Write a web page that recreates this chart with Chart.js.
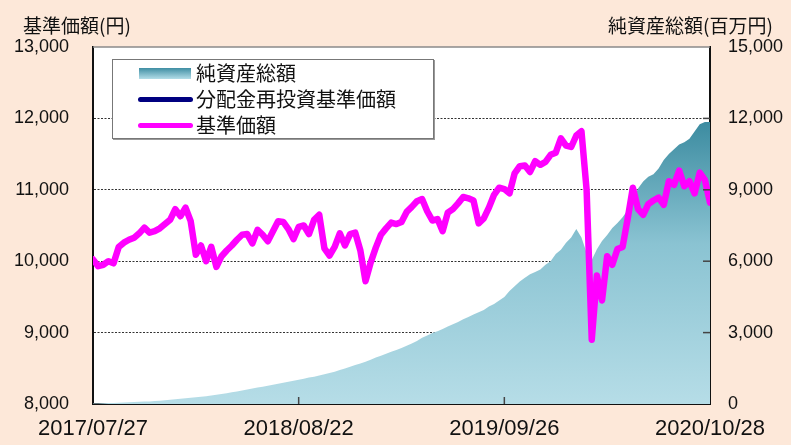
<!DOCTYPE html>
<html>
<head>
<meta charset="utf-8">
<script src="https://cdn.jsdelivr.net/npm/chart.js@4.4.0/dist/chart.umd.min.js"></script>
<style>
  body { margin: 0; background: #fde8d9; }
  #wrap { position: relative; width: 791px; height: 445px; overflow: hidden; }
  .ttl { position: absolute; font-family: "Noto Sans CJK JP", sans-serif; font-size: 19px; color: #111; white-space: nowrap; line-height: 1; }
  #legend { position: absolute; left: 112px; top: 59px; width: 320px; height: 78px; background: #fff;
    border: 1px solid #777; box-shadow: 1px 1px 0 #999; font-family: "Noto Sans CJK JP", sans-serif; font-size: 20px; color: #111; }
  .row { position: absolute; left: 0; height: 26px; line-height: 26px; white-space: nowrap; }
  .row span { position: absolute; left: 83px; top: -1px; }
  .sw { position: absolute; left: 25px; }
</style>
</head>
<body>
<div id="wrap">
  <canvas id="chart" width="791" height="445"></canvas>
  <div class="ttl" style="left:23px; top:15px;">基準価額(円)</div>
  <div class="ttl" style="left:608px; top:15px;">純資産総額(百万円)</div>
  <div id="legend">
    <div class="row" style="top:1px;"><div class="sw" style="left:26px; top:7px; width:52px; height:11px; background:linear-gradient(#3f8ea3,#b3dde8);"></div><span>純資産総額</span></div>
    <div class="row" style="top:27px;"><div class="sw" style="top:10px; width:55px; height:5px; border-radius:3px; background:#000080;"></div><span>分配金再投資基準価額</span></div>
    <div class="row" style="top:53px;"><div class="sw" style="top:10px; width:55px; height:5px; border-radius:3px; background:#ff00ff;"></div><span>基準価額</span></div>
  </div>
</div>
<script>
// x軸ラベル (インデックス 0, 40, 80, 120)
const xTickLabels = ["2017/07/27", "2018/08/22", "2019/09/26", "2020/10/28"];

// 基準価額(円)
const navValues = [
  10025, 9930, 9950, 10000, 9970, 10200, 10260, 10300, 10330, 10390,
  10470, 10400, 10420, 10460, 10520, 10580, 10730, 10630, 10750, 10560,
  10090, 10220, 10000, 10200, 9920, 10070, 10150, 10220, 10300, 10370,
  10380, 10250, 10440, 10370, 10280, 10420, 10560, 10550, 10450, 10310,
  10480, 10500, 10380, 10580, 10650, 10180, 10080, 10200, 10390, 10220,
  10380, 10400, 10150, 9720, 9980, 10190, 10370, 10460, 10540, 10520,
  10550, 10690, 10760, 10840, 10870, 10700, 10570, 10590, 10420, 10680,
  10730, 10810, 10900, 10880, 10850, 10530, 10600, 10750, 10930, 11030,
  11010, 10950, 11230, 11330, 11340, 11250, 11400, 11350, 11390, 11490,
  11520, 11720, 11620, 11600, 11760, 11820, 11000, 8900, 9800, 9450,
  10070, 9950, 10170, 10200, 10600, 11030, 10730, 10650, 10800, 10850,
  10890, 10790, 11120, 11070, 11270, 11050, 11120, 10950, 11240, 11140,
  10820
];

// 分配金再投資基準価額(円) ※分配実績なしのため基準価額と同じ
const reinvestValues = navValues.slice();

// 純資産総額(百万円)
const aumValues = [
  20, 25, 30, 38, 45, 50, 58, 70, 80, 90,
  100, 110, 122, 140, 160, 180, 200, 218, 238, 258,
  280, 305, 330, 360, 390, 420, 455, 495, 530, 570,
  610, 650, 690, 730, 770, 810, 850, 890, 935, 980,
  1020, 1065, 1110, 1150, 1200, 1245, 1300, 1360, 1430, 1490,
  1560, 1640, 1700, 1770, 1860, 1950, 2030, 2110, 2200, 2270,
  2350, 2450, 2540, 2650, 2780, 2880, 2980, 3060, 3150, 3260,
  3350, 3450, 3560, 3660, 3760, 3850, 3950, 4100, 4200, 4350,
  4500, 4750, 4950, 5150, 5300, 5450, 5550, 5650, 5850, 6000,
  6300, 6480, 6780, 7000, 7350, 7000, 6350, 6050, 6500, 6850,
  7100, 7400, 7600, 7850, 8150, 8550, 9050, 9350, 9550, 9650,
  9900, 10250, 10500, 10700, 10900, 11000, 11150, 11450, 11750, 11850,
  11850
];

const toXY = (arr) => arr.map((v, i) => ({ x: i, y: v }));

// プロットエリアの白背景と上枠
const areaBg = {
  id: "areaBg",
  beforeDraw(chart) {
    const { ctx, chartArea: a } = chart;
    ctx.save();
    ctx.fillStyle = "#ffffff";
    ctx.fillRect(a.left, a.top, a.right - a.left, a.bottom - a.top);
    ctx.restore();
  },
  afterDraw(chart) {
    const { ctx, chartArea: a } = chart;
    ctx.save();
    ctx.strokeStyle = "#8a8a8a";
    ctx.lineWidth = 1.5;
    ctx.beginPath();
    ctx.moveTo(a.left, a.top);
    ctx.lineTo(a.right, a.top);
    ctx.stroke();
    ctx.restore();
  },
};

// 内向きの目盛り
const innerTicks = {
  id: "innerTicks",
  afterDatasetsDraw(chart) {
    const { ctx, chartArea: a, scales } = chart;
    ctx.save();
    ctx.strokeStyle = "#444";
    ctx.lineWidth = 1.5;
    scales.y2.ticks.forEach((t) => {
      if (t.value <= 0 || t.value >= 15000) return;
      const y = scales.y2.getPixelForValue(t.value);
      ctx.beginPath();
      ctx.moveTo(a.right - 7, y);
      ctx.lineTo(a.right, y);
      ctx.stroke();
    });
    scales.x.ticks.forEach((t) => {
      if (t.value <= 0 || t.value >= navValues.length - 1) return;
      const x = scales.x.getPixelForValue(t.value);
      ctx.beginPath();
      ctx.moveTo(x, a.bottom - 7);
      ctx.lineTo(x, a.bottom);
      ctx.stroke();
    });
    ctx.restore();
  },
};

function areaGradient(context) {
  const a = context.chart.chartArea;
  if (!a) return "#8cc4d3";
  const g = context.chart.ctx.createLinearGradient(0, a.top, 0, a.bottom);
  g.addColorStop(0, "#26758c");
  g.addColorStop(0.2, "#3a8a9f");
  g.addColorStop(0.55, "#8ac3d2");
  g.addColorStop(1, "#b6dde7");
  return g;
}

const tickFont = { family: "'Liberation Sans', Arial, sans-serif", size: 18 };

new Chart(document.getElementById("chart"), {
  type: "line",
  data: {
    datasets: [
      {
        label: "基準価額",
        data: toXY(navValues),
        yAxisID: "y",
        borderColor: "#ff00ff",
        borderWidth: 6.5,
        borderJoinStyle: "round",
        borderCapStyle: "round",
        pointRadius: 0,
        tension: 0,
        order: 0,
      },
      {
        label: "分配金再投資基準価額",
        data: toXY(reinvestValues),
        yAxisID: "y",
        borderColor: "#000080",
        borderWidth: 4,
        borderJoinStyle: "round",
        borderCapStyle: "round",
        pointRadius: 0,
        tension: 0,
        order: 1,
      },
      {
        label: "純資産総額",
        data: toXY(aumValues),
        yAxisID: "y2",
        borderWidth: 0,
        backgroundColor: areaGradient,
        fill: "origin",
        pointRadius: 0,
        tension: 0,
        order: 2,
      },
    ],
  },
  options: {
    responsive: false,
    animation: false,
    layout: { padding: { top: 47, left: 0, right: 0, bottom: 0 } },
    plugins: { legend: { display: false }, tooltip: { enabled: false } },
    scales: {
      x: {
        type: "linear",
        min: 0,
        max: navValues.length - 1,
        afterFit(s) { s.height = 41; },
        afterBuildTicks(s) {
          s.ticks = xTickLabels.map((_, i) => ({ value: i * 40 }));
        },
        ticks: {
          autoSkip: false,
          maxRotation: 0,
          padding: 12,
          color: "#111",
          font: { family: "'Liberation Sans Narrow', 'Liberation Sans', sans-serif", size: 22 },
          callback: (v) => xTickLabels[v / 40],
        },
        grid: { display: false, drawTicks: false },
        border: { display: true, color: "#111", width: 2 },
      },
      y: {
        position: "left",
        min: 8000,
        max: 13000,
        afterFit(s) { s.width = 93; },
        ticks: {
          stepSize: 1000,
          padding: 24,
          color: "#111",
          font: tickFont,
          callback: (v) => v.toLocaleString("en-US"),
        },
        grid: {
          drawTicks: false,
          lineWidth: 1,
          color: (c) => (c.tick && c.tick.value > 8000 && c.tick.value < 13000 ? "#333" : "rgba(0,0,0,0)"),
        },
        border: { display: true, color: "#111", width: 2, dash: [2, 1.5] },
      },
      y2: {
        position: "right",
        min: 0,
        max: 15000,
        afterFit(s) { s.width = 81; },
        ticks: {
          stepSize: 3000,
          padding: 18,
          color: "#111",
          font: tickFont,
          callback: (v) => v.toLocaleString("en-US"),
        },
        grid: { display: false, drawTicks: false },
        border: { display: true, color: "#111", width: 2 },
      },
    },
  },
  plugins: [areaBg, innerTicks],
});
</script>
</body>
</html>
